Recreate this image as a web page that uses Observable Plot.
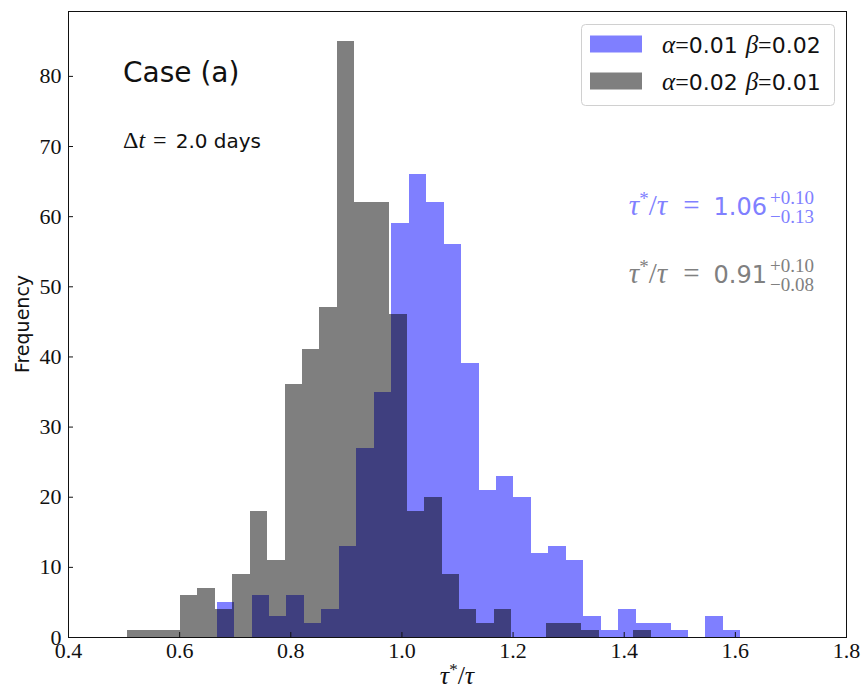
<!DOCTYPE html>
<html>
<head>
<meta charset="utf-8">
<script src="https://cdn.jsdelivr.net/npm/d3@7"></script>
<script src="https://cdn.jsdelivr.net/npm/@observablehq/plot@0.6"></script>
<style>
  body { margin: 0; background: #fff; }
  #chart { width: 867px; height: 691px; }
</style>
</head>
<body>
<div id="chart"></div>
<script>
// Distribution of the recovered ratio τ*/τ, 30 equal-width bins per run
const blueRange = [0.6675, 1.610];   // α=0.01 β=0.02
const blueCounts = [5, 0, 6, 3, 6, 2, 4, 13, 27, 35, 59, 66, 62, 56, 39, 21, 23, 20, 12, 13, 11, 3, 1, 4, 2, 2, 1, 0, 3, 1];
const grayRange = [0.507, 1.449];    // α=0.02 β=0.01
const grayCounts = [1, 1, 1, 6, 7, 4, 9, 18, 11, 36, 41, 47, 85, 62, 62, 46, 18, 20, 9, 4, 2, 4, 0, 0, 2, 2, 1, 0, 0, 1];

const seriesNames = [["0.01", "0.02"], ["0.02", "0.01"]];   // [α, β]
const ratioMedian = ["1.06", "0.91"];
const ratioPlus = ["+0.10", "+0.10"];
const ratioMinus = ["\u22120.13", "\u22120.08"];

const xTicks = [0.4, 0.6, 0.8, 1.0, 1.2, 1.4, 1.6, 1.8];
const yTicks = [0, 10, 20, 30, 40, 50, 60, 70, 80];
const xDomain = [0.4, 1.8];
const yDomain = [0, 89.25];

function toBins([lo, hi], counts) {
  const w = (hi - lo) / counts.length;
  return counts.map((c, i) => ({x1: lo + i * w, x2: lo + (i + 1) * w, y1: 0, y2: c}));
}
const blueBins = toBins(blueRange, blueCounts);
const grayBins = toBins(grayRange, grayCounts);

const W = 867, H = 691;
const mL = 68, mR = 21, mT = 11, mB = 54;
const innerW = W - mL - mR, innerH = H - mT - mB;

const SERIF = "'Liberation Serif', 'DejaVu Serif', serif";
const SANS = "'DejaVu Sans', sans-serif";
const INK = "#111";

const chart = Plot.plot({
  width: W, height: H,
  marginLeft: mL, marginRight: mR, marginTop: mT, marginBottom: mB,
  style: {background: "#fff", fontFamily: SERIF, fontSize: "22px", color: INK, overflow: "visible"},
  x: {domain: xDomain, label: null},
  y: {domain: yDomain, label: null},
  marks: [
    Plot.rect(blueBins, {x1: "x1", x2: "x2", y1: "y1", y2: "y2", fill: "blue", fillOpacity: 0.5, shapeRendering: "crispEdges"}),
    Plot.rect(grayBins, {x1: "x1", x2: "x2", y1: "y1", y2: "y2", fill: "black", fillOpacity: 0.5, shapeRendering: "crispEdges"}),
    Plot.frame({stroke: INK, strokeWidth: 1}),
    // inward tick marks
    Plot.ruleX(xTicks, {stroke: INK, insetTop: innerH - 5}),
    Plot.ruleY(yTicks, {stroke: INK, insetRight: innerW - 5}),
    Plot.axisX(xTicks, {tickSize: 0, tickPadding: 5, tickFormat: d3.format(".1f"), label: null, fill: INK}),
    Plot.axisY(yTicks, {tickSize: 0, tickPadding: 7, label: null, fill: INK})
  ]
});
document.getElementById("chart").append(chart);

const svg = d3.select(chart);
const ann = svg.append("g").attr("class", "annotations");

// rich text: a list of [string, {font, size, italic, dy, dx}] pieces as tspans
function rich(g, x, y, pieces, {anchor = "start", fill = INK} = {}) {
  const t = g.append("text").attr("x", x).attr("y", y)
    .attr("text-anchor", anchor).attr("fill", fill);
  for (const [s, o = {}] of pieces) {
    const ts = t.append("tspan").text(s)
      .attr("font-family", o.font || SERIF)
      .attr("font-size", o.size || 22);
    if (o.italic) ts.attr("font-style", "italic");
    if (o.dy) ts.attr("dy", o.dy);
    if (o.dx) ts.attr("dx", o.dx);
  }
  return t;
}

// y label
ann.append("text")
  .attr("transform", `translate(29,${mT + innerH / 2}) rotate(-90)`)
  .attr("text-anchor", "middle")
  .attr("font-family", SANS).attr("font-size", 19).attr("fill", INK)
  .text("Frequency");

// x label τ*/τ
rich(ann, mL + innerW / 2, 684, [
  ["τ", {italic: true, size: 26}],
  ["*", {size: 17, dy: -9}],
  ["/", {size: 26, dy: 9}],
  ["τ", {italic: true, size: 26}]
], {anchor: "middle"});

// panel title and cadence
rich(ann, 123, 82, [["Case (a)", {font: SANS, size: 28}]]);
rich(ann, 123, 148, [
  ["Δ", {size: 24}],
  ["t", {italic: true, size: 24}],
  ["=", {size: 24, dx: 8}],
  ["2.0 days", {font: SANS, size: 20, dx: 9}]
]);

// legend
const leg = ann.append("g");
leg.append("rect").attr("x", 581.5).attr("y", 24.5).attr("width", 253).attr("height", 81)
  .attr("rx", 4).attr("fill", "#fff").attr("fill-opacity", 0.8)
  .attr("stroke", "#d0d0d0").attr("stroke-width", 1);
const legFills = [["blue", 0.5], ["black", 0.5]];
seriesNames.forEach(([a, b], i) => {
  const cy = 44 + i * 37;
  leg.append("rect").attr("x", 590).attr("y", cy - 8.5).attr("width", 52).attr("height", 17)
    .attr("fill", legFills[i][0]).attr("fill-opacity", legFills[i][1]);
  rich(leg, 662, cy + 9, [
    ["α", {italic: true, size: 25}],
    ["=", {size: 24}],
    [a, {font: SANS, size: 22}],
    ["β", {italic: true, size: 25, dx: 8}],
    ["=", {size: 24}],
    [b, {font: SANS, size: 22}]
  ]);
});

// median ratio with asymmetric errors
const annColors = ["#8080ff", "#808080"];
[215, 283].forEach((base, i) => {
  const c = annColors[i];
  rich(ann, 767, base, [
    ["τ", {italic: true, size: 29}],
    ["*", {size: 19, dy: -10}],
    ["/", {size: 29, dy: 10}],
    ["τ", {italic: true, size: 29}],
    ["=", {size: 29, dx: 16}],
    [ratioMedian[i], {font: SANS, size: 24, dx: 14}]
  ], {anchor: "end", fill: c});
  rich(ann, 770, base - 11, [[ratioPlus[i], {size: 19}]], {fill: c});
  rich(ann, 770, base + 8, [[ratioMinus[i], {size: 19}]], {fill: c});
});
</script>
</body>
</html>
